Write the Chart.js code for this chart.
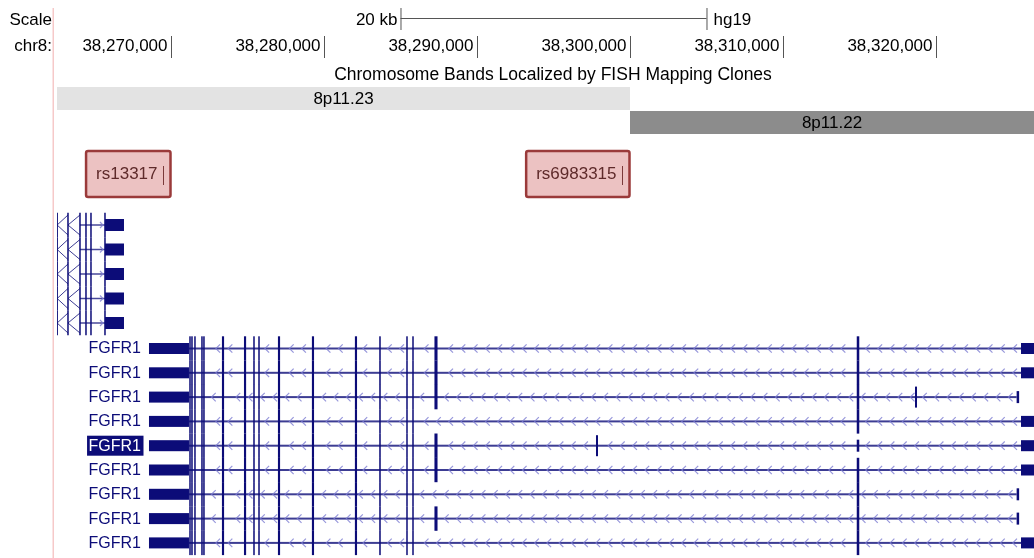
<!DOCTYPE html>
<html>
<head>
<meta charset="utf-8">
<script src="https://cdn.jsdelivr.net/npm/chart.js@4.4.1/dist/chart.umd.min.js"></script>
<style>
  html, body { margin: 0; padding: 0; background: #fff; }
  #wrap { width: 1034px; height: 558px; }
</style>
</head>
<body>
<div id="wrap"><canvas id="browser" width="1034" height="558"></canvas></div>
<script>
// window shown: chr8:38,262,550-38,326,405 (hg19)
const assembly = 'hg19';
const chrom = 'chr8';
const viewStart = 38262550;
const viewEnd = 38326405;

// base position ruler + scale bar
const rulerTicks = [38270000, 38280000, 38290000, 38300000, 38310000, 38320000];
const scaleBarStart = 38285000;
const scaleBarLength = 20000;

// Chromosome Bands Localized by FISH Mapping Clones
const bandNames = ['8p11.23', '8p11.22'];
const bandStarts = [38200000, 38300000];
const bandEnds = [38300000, 38400000];

// highlighted SNPs
const snpNames = ['rs13317', 'rs6983315'];
const snpPositions = [38269458, 38299458];

// short transcripts on the left edge (5 identical rows)
const smallTxRows = 5;
const smallTxExons = [38262560, 38263268, 38264052, 38264444, 38264771];
const smallTxBlock = [38265686, 38266928];

// FGFR1 transcripts (minus strand)
const fgfr1Names = ['FGFR1', 'FGFR1', 'FGFR1', 'FGFR1', 'FGFR1', 'FGFR1', 'FGFR1', 'FGFR1', 'FGFR1'];
const fgfr1Utr = [38268562, 38271176];
const fgfr1ExonStarts = [38271210, 38271340, 38271535, 38271990, 38272120, 38273330, 38274770, 38275390,
                         38275715, 38276990, 38279210, 38282020, 38283610, 38285385, 38285780, 38314820];
const fgfr1ExonEnds   = [38271275, 38271405, 38271600, 38272060, 38272190, 38273470, 38274910, 38275460,
                         38275790, 38277130, 38279350, 38282160, 38283710, 38285465, 38285855, 38314985];
const fgfr1AltExon = [38287220, 38287420];
const fgfr1HasAltExon = [1, 1, 1, 0, 1, 1, 0, 1, 0];
const fgfr1ExtraExon = [null, null, 38318693, null, 38297843, null, null, null, null];
const fgfr1FirstExonStart = [38325556, 38325556, 38325270, 38325556, 38325556, 38325556, 38325270, 38325270, 38325556];
const fgfr1TxEnd = [38326405, 38326405, 38325330, 38326405, 38326405, 38326405, 38325330, 38325330, 38326405];
const fgfr1Selected = 4;

const FONT = '"Liberation Sans", Arial, sans-serif';
const NAVY = '#0c0c78';
const CHEV = 'rgba(125,125,210,0.8)';

// dir 1 = '>' , -1 = '<'
function chevrons(ctx, x0, x1, yc, dir, skip, step, size) {
    ctx.strokeStyle = CHEV;
    ctx.lineWidth = 1.2;
    for (let p = x1 - step / 2; p > x0 + 2; p -= step) {
        if (skip.some(s => Math.abs(s - p) < 3.5)) continue;
        ctx.beginPath();
        ctx.moveTo(p - dir * size / 2, yc - size);
        ctx.lineTo(p + dir * size / 2, yc);
        ctx.lineTo(p - dir * size / 2, yc + size);
        ctx.stroke();
    }
}

function exonBar(ctx, a, b, yc, half, minW) {
    const w = Math.max(b - a, minW);
    ctx.fillRect((a + b) / 2 - w / 2, yc - half, w, half * 2);
}

const browserTracks = {
    id: 'browserTracks',
    afterDraw(chart) {
        const ctx = chart.ctx;
        const area = chart.chartArea;
        const px = v => chart.scales.x.getPixelForValue(v);
        const py = v => chart.scales.y.getPixelForValue(v);
        ctx.save();

        // pink guide line at left
        ctx.fillStyle = '#f6c9c9';
        ctx.fillRect(52.5, 8, 1.5, 550);

        ctx.textBaseline = 'middle';
        ctx.font = '17px ' + FONT;
        ctx.fillStyle = '#000';
        ctx.textAlign = 'right';
        ctx.fillText('Scale', 52, py(20));
        ctx.fillText(chrom + ':', 52, py(46));

        // scale bar
        const s0 = px(scaleBarStart), s1 = px(scaleBarStart + scaleBarLength);
        ctx.fillText(scaleBarLength / 1000 + ' kb', s0 - 3, py(20));
        ctx.textAlign = 'left';
        ctx.fillText(assembly, s1 + 7, py(20));
        ctx.strokeStyle = '#555';
        ctx.lineWidth = 1;
        ctx.beginPath();
        ctx.moveTo(s0, py(18.5)); ctx.lineTo(s1, py(18.5));
        ctx.moveTo(s0 + 0.5, py(8)); ctx.lineTo(s0 + 0.5, py(30));
        ctx.moveTo(s1 + 0.5, py(8)); ctx.lineTo(s1 + 0.5, py(30));
        ctx.stroke();

        // ruler
        ctx.textAlign = 'right';
        rulerTicks.forEach(t => {
            const xt = Math.round(px(t)) + 0.5;
            ctx.fillText(t.toLocaleString('en-US'), xt - 4, py(46));
            ctx.beginPath();
            ctx.moveTo(xt, py(36)); ctx.lineTo(xt, py(58));
            ctx.stroke();
        });

        ctx.textAlign = 'center';
        ctx.font = '17.5px ' + FONT;
        ctx.fillText('Chromosome Bands Localized by FISH Mapping Clones', 553, py(75));
        ctx.font = '17px ' + FONT;

        ctx.save();
        ctx.beginPath();
        ctx.rect(area.left, area.top, area.right - area.left, area.bottom - area.top);
        ctx.clip();

        // bands
        const bandFill = ['#e3e3e3', '#8c8c8c'];
        bandNames.forEach((name, i) => {
            const a = Math.max(px(bandStarts[i]), area.left);
            const b = Math.min(px(bandEnds[i]), area.right);
            const top = py(87 + i * 24);
            ctx.fillStyle = bandFill[i];
            ctx.fillRect(a, top, b - a, 23);
            ctx.fillStyle = '#000';
            ctx.fillText(name, (a + b) / 2, top + 12);
        });

        // SNPs
        ctx.textAlign = 'right';
        snpNames.forEach((name, i) => {
            const xs = Math.round(px(snpPositions[i])) + 0.5;
            const tw = ctx.measureText(name).width;
            const left = xs - 6 - tw - 10, right = xs + 7;
            ctx.fillStyle = '#ecc2c2';
            ctx.strokeStyle = '#9a3a3a';
            ctx.lineWidth = 2.5;
            ctx.beginPath();
            ctx.roundRect(left, py(151), right - left, 46, 2);
            ctx.fill();
            ctx.stroke();
            ctx.fillStyle = '#5e2a2a';
            ctx.fillText(name, xs - 6, py(174.5));
            ctx.strokeStyle = '#7a3a3a';
            ctx.lineWidth = 1;
            ctx.beginPath();
            ctx.moveTo(xs, py(166)); ctx.lineTo(xs, py(185));
            ctx.stroke();
        });

        // short transcripts
        for (let r = 0; r < smallTxRows; r++) {
            const yc = py(225 + r * 24.5);
            const ex = smallTxExons.map(px);
            ctx.strokeStyle = 'rgba(12,12,120,0.75)';
            ctx.lineWidth = 1.5;
            ctx.beginPath();
            ctx.moveTo(ex[2], yc); ctx.lineTo(px(smallTxBlock[0]), yc);
            ctx.stroke();
            chevrons(ctx, ex[2], px(smallTxBlock[0]), yc, 1, ex, 7, 3);
            ctx.strokeStyle = 'rgba(12,12,120,0.8)';
            ctx.lineWidth = 1;
            ctx.beginPath();
            for (let k = 0; k < 2; k++) {
                ctx.moveTo(ex[k + 1], yc - 10); ctx.lineTo(ex[k], yc); ctx.lineTo(ex[k + 1], yc + 10);
            }
            ctx.stroke();
            ctx.fillStyle = NAVY;
            ex.concat([px(smallTxBlock[0])]).forEach(e => ctx.fillRect(e - 0.75, yc - 12.25, 1.5, 24.5));
            ctx.fillRect(px(smallTxBlock[0]), yc - 6, px(smallTxBlock[1]) - px(smallTxBlock[0]), 12);
        }

        // FGFR1 transcripts
        fgfr1Names.forEach((name, r) => {
            const yc = py(348.5 + r * 24.3);
            const x0 = px(fgfr1Utr[1]), x1 = px(fgfr1FirstExonStart[r]);
            const exA = fgfr1ExonStarts.map(px), exB = fgfr1ExonEnds.map(px);
            if (fgfr1HasAltExon[r]) { exA.push(px(fgfr1AltExon[0])); exB.push(px(fgfr1AltExon[1])); }
            const centers = exA.map((a, k) => (a + exB[k]) / 2);
            if (fgfr1ExtraExon[r]) centers.push(px(fgfr1ExtraExon[r]));

            ctx.fillStyle = 'rgba(12,12,120,0.8)';
            ctx.fillRect(x0, yc - 1, x1 - x0, 2);
            chevrons(ctx, x0, x1, yc, -1, centers, 12.26, 4.2);

            ctx.fillStyle = NAVY;
            ctx.fillRect(px(fgfr1Utr[0]), yc - 5.5, px(fgfr1Utr[1]) - px(fgfr1Utr[0]), 11);
            exA.forEach((a, k) => {
                const short = (r === fgfr1Selected && k === 15);
                exonBar(ctx, a, exB[k], yc, short ? 6 : 12.2, 1.5);
            });
            if (fgfr1ExtraExon[r]) {
                const e = px(fgfr1ExtraExon[r]);
                ctx.fillRect(e - 1, yc - 10.5, 2, 21);
            }
            const fa = px(fgfr1FirstExonStart[r]), fb = px(fgfr1TxEnd[r]);
            if (fb - fa > 6) ctx.fillRect(fa, yc - 5.5, fb - fa, 11);
            else ctx.fillRect(fa, yc - 6, 2.5, 12);
        });
        ctx.restore();

        // FGFR1 labels
        ctx.textAlign = 'right';
        ctx.font = '16px ' + FONT;
        fgfr1Names.forEach((name, r) => {
            const yc = py(348.5 + r * 24.3);
            if (r === fgfr1Selected) {
                const tw = ctx.measureText(name).width;
                ctx.fillStyle = NAVY;
                ctx.fillRect(141 - tw - 1.5, yc - 10, tw + 4, 20);
                ctx.fillStyle = '#fff';
            } else {
                ctx.fillStyle = NAVY;
            }
            ctx.fillText(name, 141, yc + 0.5);
        });
        ctx.restore();
    }
};

new Chart(document.getElementById('browser'), {
    type: 'scatter',
    data: { datasets: [{ data: [] }] },
    options: {
        responsive: false,
        animation: false,
        layout: { padding: { left: 57, right: 0, top: 0, bottom: 0 } },
        plugins: { legend: { display: false }, tooltip: { enabled: false } },
        scales: {
            x: { type: 'linear', min: viewStart, max: viewEnd, display: false },
            y: { type: 'linear', min: 0, max: 558, reverse: true, display: false }
        }
    },
    plugins: [browserTracks]
});
</script>
</body>
</html>
